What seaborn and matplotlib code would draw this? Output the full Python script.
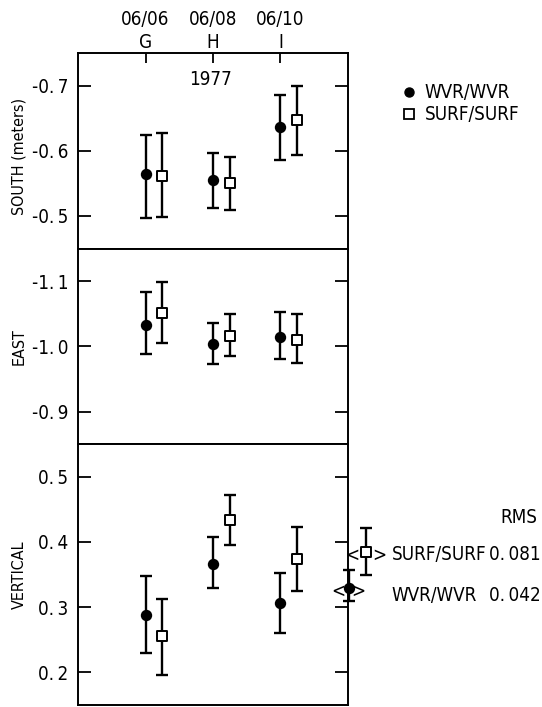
import matplotlib
matplotlib.use("Agg")
import numpy as np
import pandas as pd
import matplotlib.pyplot as plt
import seaborn as sns
from matplotlib.lines import Line2D
from matplotlib.ticker import FuncFormatter

# Experiment dates and sites
dates = ["06/06", "06/08", "06/10"]
sites = ["G", "H", "I"]
year = "1977"

# SOUTH (meters): center, lower end, upper end of each bar
south_wvr = [-0.564, -0.555, -0.637]
south_wvr_min = [-0.625, -0.597, -0.685]
south_wvr_max = [-0.497, -0.512, -0.586]
south_surf = [-0.562, -0.550, -0.648]
south_surf_min = [-0.628, -0.591, -0.700]
south_surf_max = [-0.499, -0.509, -0.594]

# EAST
east_wvr = [-1.033, -1.004, -1.014]
east_wvr_min = [-1.083, -1.036, -1.052]
east_wvr_max = [-0.989, -0.973, -0.981]
east_surf = [-1.051, -1.016, -1.010]
east_surf_min = [-1.098, -1.049, -1.049]
east_surf_max = [-1.005, -0.985, -0.974]

# VERTICAL
vert_wvr = [0.288, 0.366, 0.306]
vert_wvr_min = [0.229, 0.329, 0.261]
vert_wvr_max = [0.347, 0.408, 0.353]
vert_surf = [0.255, 0.434, 0.374]
vert_surf_min = [0.196, 0.396, 0.325]
vert_surf_max = [0.312, 0.472, 0.423]

# weighted means shown at the right edge, with RMS scatter
rms_names = ["SURF/SURF", "WVR/WVR"]
rms_values = [0.081, 0.042]
mean_vert = [0.385, 0.330]
mean_vert_min = [0.350, 0.309]
mean_vert_max = [0.422, 0.357]

sns.set_theme(style="ticks")
plt.rcParams['font.family'] = ['DejaVu Sans']
plt.rcParams.update({
    "font.stretch": "condensed",
    "axes.linewidth": 1.4,
    "axes.edgecolor": "black",
    "xtick.color": "black",
    "ytick.color": "black",
    "text.color": "black",
    "axes.labelcolor": "black",
})

FS = 13.5
SURF_SHIFT = 0.25
TS = "\u2009"  # thin space after the decimal point, as in the original typesetting


def fmt(v, pos=None):
    return f"{v:.1f}".replace(".", "." + TS)


def draw_panel(ax, wvr, wvr_min, wvr_max, surf, surf_min, surf_max):
    x = np.arange(len(dates))
    series = [
        ("WVR/WVR", x, wvr, wvr_min, wvr_max, "o", "black", 46),
        ("SURF/SURF", x + SURF_SHIFT, surf, surf_min, surf_max, "s", "white", 62),
    ]
    for name, xs, c, lo, hi, mk, fc, sz in series:
        c = np.array(c)
        ax.errorbar(xs, c, yerr=[c - np.array(lo), np.array(hi) - c], fmt="none",
                    ecolor="black", elinewidth=1.7, capsize=4, capthick=1.7, zorder=2)
        df = pd.DataFrame({"x": xs, "value": c})
        sns.scatterplot(data=df, x="x", y="value", marker=mk, color=fc, edgecolor="black",
                        linewidth=1.4, s=sz, ax=ax, zorder=3, legend=False)
    ax.set_xlim(-1, 3)
    ax.set_xlabel("")
    ax.yaxis.set_major_formatter(FuncFormatter(fmt))
    ax.tick_params(axis="y", which="major", direction="in", left=True, right=True,
                   length=9.5, width=1.3, labelsize=FS, pad=7)


fig, axes = plt.subplots(3, 1, figsize=(5.42, 7.07), dpi=100,
                         gridspec_kw={"height_ratios": [3, 3, 4], "hspace": 0})
fig.subplots_adjust(left=0.144, right=0.642, top=0.925, bottom=0.003)
ax1, ax2, ax3 = axes

draw_panel(ax1, south_wvr, south_wvr_min, south_wvr_max, south_surf, south_surf_min, south_surf_max)
draw_panel(ax2, east_wvr, east_wvr_min, east_wvr_max, east_surf, east_surf_min, east_surf_max)
draw_panel(ax3, vert_wvr, vert_wvr_min, vert_wvr_max, vert_surf, vert_surf_min, vert_surf_max)

ax1.set_ylim(-0.45, -0.75)
ax1.set_yticks([-0.7, -0.6, -0.5])
ax2.set_ylim(-0.85, -1.15)
ax2.set_yticks([-1.1, -1.0, -0.9])
ax3.set_ylim(0.15, 0.55)
ax3.set_yticks([0.5, 0.4, 0.3, 0.2])

# top axis: dates and site letters
ax1.set_xticks(np.arange(len(dates)))
ax1.set_xticklabels([f"{d}\n{s}" for d, s in zip(dates, sites)], fontsize=FS, linespacing=1.25)
ax1.tick_params(axis="x", top=True, labeltop=True, bottom=False, labelbottom=False,
                direction="in", length=7, width=1.3, pad=1)
for ax in (ax2, ax3):
    ax.tick_params(axis="x", top=False, bottom=False, labeltop=False, labelbottom=False)
ax1.text(0.97, -0.7005, year, ha="center", va="baseline", fontsize=FS)

for ax, lab, yc in ((ax1, "SOUTH (meters)", 0.47), (ax2, "EAST", 0.5), (ax3, "VERTICAL", 0.5)):
    ax.set_ylabel(lab, fontsize=11.5)
    ax.yaxis.set_label_coords(-0.19, yc)

# legend
handles = [
    Line2D([], [], marker="o", ls="none", color="black", markersize=6.5),
    Line2D([], [], marker="s", ls="none", markerfacecolor="white", markeredgecolor="black",
           markeredgewidth=1.3, markersize=6.5),
]
fig.legend(handles, ["WVR/WVR", "SURF/SURF"], loc="upper left", bbox_to_anchor=(0.745, 0.882),
           frameon=False, fontsize=FS, handlelength=0.6, handletextpad=0.5,
           labelspacing=0.15, borderpad=0, borderaxespad=0)

# mean values with RMS at the right of the vertical panel
mean_x = [3.27, 3.01]
mean_marker = ["s", "o"]
mean_face = ["white", "black"]
mean_size = [62, 46]
bracket_x = [(3.07, 3.46), (2.85, 3.16)]
label_base = [0.3723, 0.3092]
for i, name in enumerate(rms_names):
    c = mean_vert[i]
    ax3.errorbar([mean_x[i]], [c], yerr=[[c - mean_vert_min[i]], [mean_vert_max[i] - c]],
                 fmt="none", ecolor="black", elinewidth=1.7, capsize=4, capthick=1.7,
                 clip_on=False, zorder=4)
    ax3.scatter([mean_x[i]], [c], marker=mean_marker[i], facecolor=mean_face[i],
                edgecolor="black", linewidth=1.4, s=mean_size[i], clip_on=False, zorder=5)
    ax3.text(bracket_x[i][0], c - 0.006, "<", ha="center", va="center", fontsize=FS, clip_on=False)
    ax3.text(bracket_x[i][1], c - 0.006, ">", ha="center", va="center", fontsize=FS, clip_on=False)
    ax3.text(3.65, label_base[i], name, ha="left", va="baseline", fontsize=FS, clip_on=False)
    ax3.text(5.86, label_base[i], f"{rms_values[i]:.3f}".replace(".", "." + TS),
             ha="right", va="baseline", fontsize=FS, clip_on=False)
ax3.text(5.80, 0.4292, "RMS", ha="right", va="baseline", fontsize=FS, clip_on=False)

fig.savefig("out.png", dpi=100)
